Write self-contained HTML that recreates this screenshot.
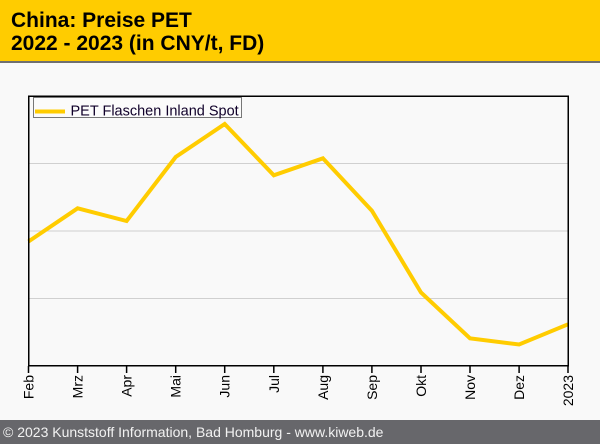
<!DOCTYPE html>
<html><head><meta charset="utf-8"><style>
html,body{margin:0;padding:0;}
body{width:600px;height:444px;overflow:hidden;background:#f9f9f9;}
svg{display:block;}
</style></head><body>
<svg width="600" height="444" viewBox="0 0 600 444" xmlns="http://www.w3.org/2000/svg" font-family="'Liberation Sans', Arial, sans-serif">
<rect x="0" y="0" width="600" height="444" fill="#f9f9f9"/>
<rect x="0" y="0" width="600" height="61" fill="#ffcc00"/>
<rect x="0" y="61" width="600" height="2" fill="#707070"/>
<text x="11" y="27" font-size="21" font-weight="bold" fill="#000">China: Preise PET</text>
<text x="11" y="50" font-size="21" font-weight="bold" fill="#000">2022 - 2023 (in CNY/t, FD)</text>
<g stroke="#d0d0d0" stroke-width="1">
<line x1="29" y1="163.5" x2="568" y2="163.5"/>
<line x1="29" y1="231" x2="568" y2="231"/>
<line x1="29" y1="298.5" x2="568" y2="298.5"/>
</g>
<polyline fill="none" stroke="#ffcc00" stroke-width="4" stroke-linejoin="miter" points="28.5,241.5 77.6,208.3 126.6,221 175.7,157 224.7,124 273.8,175.3 322.9,158.3 371.9,210.7 421,292.5 470,338.3 519.1,344.5 568,324.3"/>
<rect x="28.75" y="96.25" width="539.5" height="269.5" fill="none" stroke="#000" stroke-width="1.5"/>
<g stroke="#000" stroke-width="1.5">
<line x1="28.5" y1="366" x2="28.5" y2="373"/>
<line x1="77.6" y1="366" x2="77.6" y2="373"/>
<line x1="126.6" y1="366" x2="126.6" y2="373"/>
<line x1="175.7" y1="366" x2="175.7" y2="373"/>
<line x1="224.7" y1="366" x2="224.7" y2="373"/>
<line x1="273.8" y1="366" x2="273.8" y2="373"/>
<line x1="322.9" y1="366" x2="322.9" y2="373"/>
<line x1="371.9" y1="366" x2="371.9" y2="373"/>
<line x1="421" y1="366" x2="421" y2="373"/>
<line x1="470" y1="366" x2="470" y2="373"/>
<line x1="519.1" y1="366" x2="519.1" y2="373"/>
<line x1="568" y1="366" x2="568" y2="373"/>
</g>
<g font-size="14" fill="#000" text-anchor="end">
<text transform="translate(33.5,375) rotate(-90)">Feb</text>
<text transform="translate(82.6,375) rotate(-90)">Mrz</text>
<text transform="translate(131.6,375) rotate(-90)">Apr</text>
<text transform="translate(180.7,375) rotate(-90)">Mai</text>
<text transform="translate(229.7,375) rotate(-90)">Jun</text>
<text transform="translate(278.8,375) rotate(-90)">Jul</text>
<text transform="translate(327.9,375) rotate(-90)">Aug</text>
<text transform="translate(376.9,375) rotate(-90)">Sep</text>
<text transform="translate(426,375) rotate(-90)">Okt</text>
<text transform="translate(475,375) rotate(-90)">Nov</text>
<text transform="translate(524.1,375) rotate(-90)">Dez</text>
<text transform="translate(573,375) rotate(-90)">2023</text>
</g>
<rect x="33.5" y="97.5" width="208" height="20" fill="#fbfbfb" stroke="#777" stroke-width="1"/>
<line x1="35" y1="111.5" x2="65" y2="111.5" stroke="#ffcc00" stroke-width="4"/>
<text x="70.5" y="115.5" font-size="14.5" fill="#10002a">PET Flaschen Inland Spot</text>
<rect x="0" y="420" width="600" height="24" fill="#67676b"/>
<text x="3" y="437" font-size="14" fill="#f2f2f2">© 2023 Kunststoff Information, Bad Homburg - www.kiweb.de</text>
</svg>
</body></html>
